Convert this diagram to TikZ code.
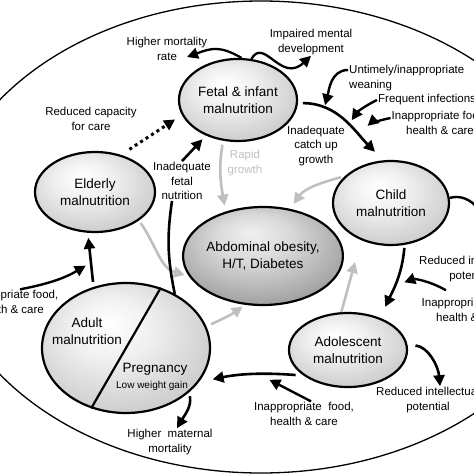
\documentclass[tikz,border=0pt]{standalone}
\usepackage{fontspec}
\setmainfont{Liberation Sans}
\usetikzlibrary{arrows.meta,shapes.geometric}

\pgfdeclareradialshading{ovalshade}{\pgfpoint{-6bp}{10bp}}{color(0bp)=(white); color(12bp)=(gray!12); color(50bp)=(gray!72)}
\pgfdeclareradialshading{ovaldark}{\pgfpoint{-4bp}{12bp}}{color(0bp)=(gray!12); color(12bp)=(gray!30); color(50bp)=(black!62)}

\begin{document}
\begin{tikzpicture}[x=1pt,y=1pt,
  >={Triangle[length=11pt,width=11pt]},
  stage/.style={ellipse, draw, line width=2.2pt, shading=ovalshade, align=center, inner sep=0pt, font=\fontsize{13.5}{17}\selectfont},
  note/.style={align=center, inner sep=1pt, font=\fontsize{11.5}{14.5}\selectfont},
  flow/.style={->, line width=2.6pt},
  soft/.style={->, line width=2.6pt, gray!50}]
  \useasboundingbox (0,0) rectangle (474,-474);
  \clip (0,0) rectangle (474,-474);
  \draw[line width=1.3pt] (261,-237) ellipse [x radius=321, y radius=236];

  \node[stage, minimum width=118pt, minimum height=82pt] (fetal) at (238,-100) {Fetal \& infant\\malnutrition};
  \node[stage, minimum width=116pt, minimum height=84pt] (child) at (391,-203) {Child\\malnutrition};
  \node[stage, minimum width=118pt, minimum height=74pt] (adol) at (348,-350) {Adolescent\\malnutrition};
  \node[stage, minimum width=120pt, minimum height=80pt] (elderly) at (95,-192) {Elderly\\malnutrition};
  \node[stage, shading=ovaldark, minimum width=132pt, minimum height=98pt] (abdo) at (263,-256) {Abdominal obesity,\\H/T, Diabetes};
  \node[stage, minimum width=168pt, minimum height=130pt] (adult) at (126,-348) {};
  \draw[line width=2.2pt] (adult.60) -- (adult.240);
  \node[note, font=\fontsize{13.5}{17}\selectfont] (adulttxt) at (87,-331) {Adult\\malnutrition};
  \node[note, font=\fontsize{13.5}{17}\selectfont] (preg) at (155,-369) {Pregnancy};
  \node[note, font=\fontsize{10}{12}\selectfont] (gain) at (152,-386) {Low weight gain};

  \node[note] (mort) at (167,-49) {Higher mortality\\rate};
  \node[note] (mental) at (311,-42) {Impaired mental\\development};
  \node[note, anchor=north west, align=left] (wean) at (348,-64) {Untimely/inappropriate\\weaning};
  \node[note, anchor=west] (infect) at (377,-100) {Frequent infections};
  \node[note] (caretr) at (440,-123) {Inappropriate food,\\health \& care};
  \node[note] (capacity) at (91,-119) {Reduced capacity\\for care};
  \node[note] (catchup) at (316,-146) {Inadequate\\catch up\\growth};
  \node[note] (fetalnut) at (182,-181) {Inadequate\\fetal\\nutrition};
  \node[note, text=gray!50] (rapid) at (245,-163) {Rapid\\growth};
  \node[note] (reducedr) at (471,-269) {Reduced intellectual\\potential};
  \node[note] (carer) at (470,-310) {Inappropriate food,\\health \& care};
  \node[note] (reducedb) at (428,-400) {Reduced intellectual\\potential};
  \node[note] (careb) at (304,-414) {Inappropriate\ \ food,\\health \& care};
  \node[note] (maternal) at (170,-442) {Higher\ \ maternal\\mortality};
  \node[note] (carel) at (10,-302) {Inappropriate food,\\health \& care};
  \coordinate (offr) at (492,-240);

  \draw[soft, shorten <=4pt, shorten >=6pt] (fetal.-110) to[out=-100,in=100] (abdo.130);
  \draw[soft, shorten <=4pt, shorten >=6pt] (child.150) to[out=195,in=55] (abdo.60);
  \draw[soft, shorten <=3pt, shorten >=4pt] (elderly.-33) to[out=-55,in=165] (abdo.195);
  \draw[soft, shorten <=5pt, shorten >=3pt] (adult.15) to[out=25,in=215] (abdo.250);
  \draw[soft] (adol.100) -- ([shift={(11,-6)}]abdo.east);

  \draw[flow, shorten <=5pt, shorten >=12pt] (fetal.-3) to[out=0,in=135] coordinate[pos=.25] (a1) coordinate[pos=.55] (a2) coordinate[pos=.68] (a3) (child.100);
  \draw[flow, shorten <=3pt, shorten >=12pt] (child.-72) to[out=-95,in=65] coordinate[pos=.55] (b1) (adol.45);
  \draw[flow, shorten <=8pt, shorten >=14pt] (adol.-150) to[bend right=8] coordinate[pos=.42] (c1) (adult.-25);
  \draw[flow, shorten <=5pt, shorten >=5pt] (adult.118) -- coordinate[pos=.45] (d1) (elderly.-100);
  \draw[flow, line width=3pt, dash pattern=on 3pt off 3.5pt, shorten <=10pt, shorten >=8pt] (elderly.55) -- (fetal.195);
  \draw[line width=2.6pt] (adult.48) to[bend left=10] ([xshift=-10pt]fetalnut.south);
  \draw[flow, shorten >=5pt] (fetalnut.north) -- (fetal.228);

  \draw[flow, line width=2.3pt] (fetal.85) to[out=150,in=20,looseness=1.2] ([shift={(20,-8)}]mort.center);
  \draw[flow, line width=2.3pt] (fetal.72) to[out=60,in=223,out looseness=1.1,in looseness=1.75] (mental.south);
  \draw[flow, line width=2.4pt, shorten >=3pt] ([yshift=-6pt]wean.north west) to[out=180,in=75] (a1);
  \draw[flow, line width=2.4pt, shorten >=5pt] (infect.west) to[bend right=15] (a2);
  \draw[flow, line width=2.4pt, shorten >=12pt] ([yshift=5pt]caretr.west) to[bend right=15] (a3);
  \draw[line width=2.4pt] (child.5) to[out=15,in=100] (offr);
  \draw[flow, line width=2.4pt, shorten >=10pt] ([shift={(-24,7)}]carer.north) to[out=150,in=20] (b1);
  \draw[flow, shorten <=8pt] (adol.5) to[out=-5,in=95] ([xshift=12pt]reducedb.north);
  \draw[flow, line width=2.4pt, shorten >=12pt] ([xshift=7pt]careb.north) -- (c1);
  \draw[flow, shorten <=4pt] (adult.-35) to[out=-80,in=60] ([xshift=7pt]maternal.north);
  \draw[flow, line width=2.4pt, shorten >=6pt] ([xshift=10pt]carel.north) to[bend right=10] (d1);
\end{tikzpicture}
\end{document}
